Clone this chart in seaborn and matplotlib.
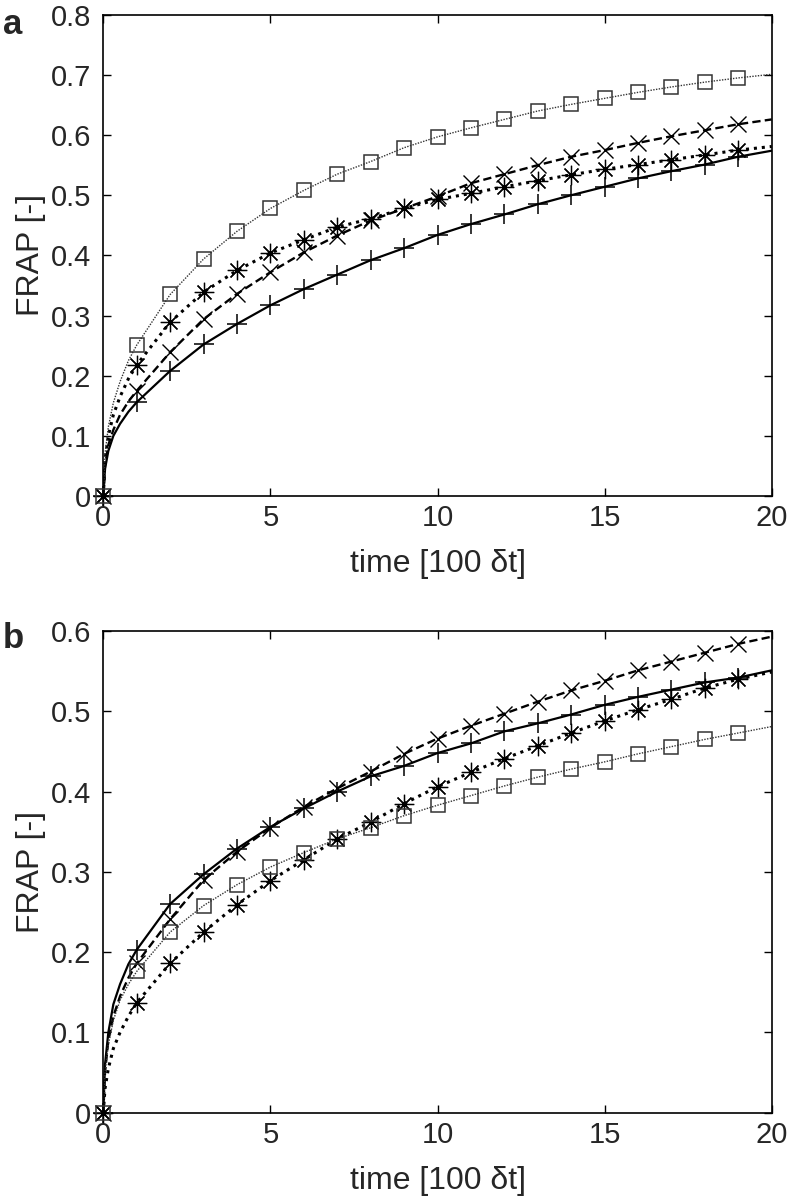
import pandas as pd
import seaborn as sns
import matplotlib
matplotlib.use("Agg")
import matplotlib.pyplot as plt

# time axis, in units of 100 dt
time_steps = list(range(21))
early_steps = [0.05, 0.15, 0.3, 0.5, 0.75]
n_markers = 20

# --- panel a ---
a_plus = [0.0, 0.156, 0.208, 0.252, 0.286, 0.317, 0.344, 0.368, 0.392, 0.412, 0.434,
          0.452, 0.468, 0.485, 0.500, 0.514, 0.528, 0.540, 0.551, 0.564, 0.574]
a_cross = [0.0, 0.175, 0.239, 0.294, 0.336, 0.372, 0.405, 0.433, 0.458, 0.478, 0.498,
           0.520, 0.535, 0.550, 0.564, 0.575, 0.587, 0.598, 0.608, 0.618, 0.626]
a_star = [0.0, 0.218, 0.289, 0.339, 0.375, 0.404, 0.426, 0.447, 0.461, 0.478, 0.493,
          0.503, 0.514, 0.524, 0.534, 0.543, 0.551, 0.559, 0.567, 0.575, 0.581]
a_square = [0.0, 0.251, 0.335, 0.394, 0.440, 0.478, 0.508, 0.535, 0.556, 0.579, 0.597,
            0.612, 0.626, 0.640, 0.651, 0.661, 0.671, 0.680, 0.688, 0.695, 0.701]
a_plus_early = [0.045, 0.075, 0.100, 0.120, 0.140]
a_cross_early = [0.050, 0.085, 0.110, 0.135, 0.157]
a_star_early = [0.060, 0.100, 0.135, 0.165, 0.195]
a_square_early = [0.070, 0.115, 0.155, 0.190, 0.225]

# --- panel b ---
b_plus = [0.0, 0.203, 0.260, 0.297, 0.329, 0.356, 0.379, 0.400, 0.419, 0.432, 0.448,
          0.460, 0.475, 0.485, 0.496, 0.508, 0.518, 0.527, 0.536, 0.542, 0.551]
b_cross = [0.0, 0.186, 0.241, 0.290, 0.325, 0.355, 0.381, 0.404, 0.425, 0.447, 0.466,
           0.482, 0.497, 0.512, 0.526, 0.538, 0.551, 0.562, 0.573, 0.584, 0.593]
b_star = [0.0, 0.137, 0.186, 0.225, 0.259, 0.289, 0.315, 0.341, 0.362, 0.385, 0.406,
          0.424, 0.441, 0.457, 0.473, 0.488, 0.502, 0.515, 0.529, 0.540, 0.549]
b_square = [0.0, 0.176, 0.225, 0.258, 0.284, 0.306, 0.324, 0.341, 0.355, 0.370, 0.383,
            0.395, 0.407, 0.418, 0.428, 0.437, 0.447, 0.456, 0.465, 0.473, 0.481]
b_plus_early = [0.060, 0.100, 0.135, 0.160, 0.185]
b_cross_early = [0.050, 0.090, 0.120, 0.145, 0.168]
b_star_early = [0.030, 0.055, 0.080, 0.100, 0.120]
b_square_early = [0.050, 0.085, 0.115, 0.140, 0.160]

a_yticks = [0, 0.1, 0.2, 0.3, 0.4, 0.5, 0.6, 0.7, 0.8]
a_ylabels = ['0', '0.1', '0.2', '0.3', '0.4', '0.5', '0.6', '0.7', '0.8']
b_yticks = [0, 0.1, 0.2, 0.3, 0.4, 0.5, 0.6]
b_ylabels = ['0', '0.1', '0.2', '0.3', '0.4', '0.5', '0.6']
xticks = [0, 5, 10, 15, 20]

sns.set_style("ticks")
plt.rcParams['font.family'] = ['Liberation Sans', 'DejaVu Sans']

grey = '#333333'
styles = {
    'plus': dict(line=dict(color='black', lw=1.6, ls='-'),
                 mark=dict(marker='+', markersize=14, markeredgewidth=1.1,
                           markeredgecolor='black', color='black')),
    'cross': dict(line=dict(color='black', lw=1.7, ls=(0, (3.5, 1.8))),
                  mark=dict(marker='x', markersize=11, markeredgewidth=1.0,
                            markeredgecolor='black', color='black')),
    'star': dict(line=dict(color='black', lw=2.2, ls=(0, (1, 1.6))),
                 mark=dict(marker=(8, 2, 0), markersize=14, markeredgewidth=0.9,
                           markeredgecolor='black', color='black')),
    'square': dict(line=dict(color=grey, lw=1.0, ls=(0, (1, 1))),
                   mark=dict(marker='s', markersize=10.5, markeredgewidth=1.1,
                             markerfacecolor='none', markeredgecolor=grey,
                             color=grey)),
}


def draw_panel(ax, series, ylim, yticks, ylabels):
    for name, vals, early in series:
        st = styles[name]
        line_df = pd.DataFrame({
            't': [0.0] + early_steps + time_steps[1:],
            'frap': [vals[0]] + early + vals[1:],
        })
        sns.lineplot(data=line_df, x='t', y='frap', ax=ax, color=st['line']['color'],
                     linewidth=st['line']['lw'], linestyle=st['line']['ls'])
        mark_df = pd.DataFrame({'t': time_steps[:n_markers], 'frap': vals[:n_markers]})
        sns.lineplot(data=mark_df, x='t', y='frap', ax=ax, linestyle='none',
                     clip_on=False, zorder=5, **st['mark'])

    ax.set_xlim(0, 20)
    ax.set_ylim(*ylim)
    ax.set_xticks(xticks)
    ax.set_xticklabels([str(x) for x in xticks])
    ax.set_yticks(yticks)
    ax.set_yticklabels(ylabels)
    ax.tick_params(direction='in', top=True, right=True, length=6, width=1.0,
                   labelsize=21, color='black')
    ax.tick_params(axis='x', pad=6)
    ax.tick_params(axis='y', pad=9)
    for sp in ax.spines.values():
        sp.set_linewidth(1.2)
        sp.set_color('black')
    ax.set_xlabel('time [100 δt]', fontsize=23, labelpad=12)
    ax.set_ylabel('FRAP [-]', fontsize=23, labelpad=3)


fig = plt.figure(figsize=(7.9, 11.99), dpi=100)
ax_a = fig.add_axes([0.1308, 0.5863, 0.846, 0.4014])
ax_b = fig.add_axes([0.1308, 0.0720, 0.846, 0.4017])

draw_panel(ax_a, [('plus', a_plus, a_plus_early), ('cross', a_cross, a_cross_early),
                  ('star', a_star, a_star_early), ('square', a_square, a_square_early)],
           (0, 0.8), a_yticks, a_ylabels)
draw_panel(ax_b, [('plus', b_plus, b_plus_early), ('cross', b_cross, b_cross_early),
                  ('star', b_star, b_star_early), ('square', b_square, b_square_early)],
           (0, 0.6), b_yticks, b_ylabels)

fig.text(0.004, 0.9935, 'a', fontsize=25, fontweight='bold', va='top', ha='left')
fig.text(0.004, 0.4810, 'b', fontsize=25, fontweight='bold', va='top', ha='left')

fig.savefig('out.png', dpi=100)
